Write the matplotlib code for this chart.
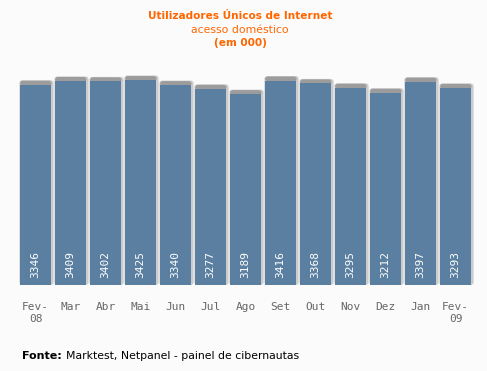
import matplotlib.pyplot as plt
from matplotlib.patches import FancyBboxPatch

# ── Data ──────────────────────────────────────────────────────
months = ["Fev-\n08", "Mar", "Abr", "Mai", "Jun", "Jul", "Ago",
          "Set", "Out", "Nov", "Dez", "Jan", "Fev-\n09"]
users = [3346, 3409, 3402, 3425, 3340, 3277, 3189,
         3416, 3368, 3295, 3212, 3397, 3293]

# ── Style ─────────────────────────────────────────────────────
BG = "#fbfbfb"
BAR = "#5a7fa1"
ORANGE = "#ff6600"
W, H = 487, 371

fig = plt.figure(figsize=(W / 100, H / 100), dpi=100, facecolor=BG)
# axes in pixel terms: x 18..473, y 80..285 (bottom)
ax = fig.add_axes([18 / W, (H - 285) / H, 455 / W, 205 / H])
ax.set_facecolor(BG)
ax.set_xlim(-0.5, len(users) - 0.5)
ax.set_ylim(0, 3425)

px = 3425 / 205  # data units per pixel (y)
xpx = 13 / 455   # data units per pixel (x)

for i, v in enumerate(users):
    # soft shadow on top and right
    sh = FancyBboxPatch((i - 0.46, 0), 0.92 + 2 * xpx, v + 4.5 * px,
                        boxstyle="round,pad=0,rounding_size=0.08",
                        mutation_aspect=px / xpx,
                        fc="#cccccc", ec="none", clip_on=False, zorder=1)
    ax.add_patch(sh)
    top = FancyBboxPatch((i - 0.44, v - 1 * px), 0.90, 5 * px,
                         boxstyle="round,pad=0,rounding_size=0.08",
                         mutation_aspect=px / xpx,
                         fc="#9c9c9c", ec="none", clip_on=False, zorder=2)
    ax.add_patch(top)

ax.bar(range(len(users)), users, width=0.9, color=BAR, zorder=3)

for i, v in enumerate(users):
    ax.text(i, 7 * px, str(v), rotation=90, ha="center", va="bottom",
            color="white", fontsize=8, family="DejaVu Sans Mono", zorder=4)

ax.set_xticks(range(len(users)))
ax.set_xticklabels(months, fontsize=8, color="#666666",
                   family="DejaVu Sans Mono", linespacing=1.3, va="top")
ax.tick_params(axis="x", length=0, pad=12)
ax.set_yticks([])
for s in ax.spines.values():
    s.set_visible(False)

# ── Titles ────────────────────────────────────────────────────
cx = 240 / W
fig.text(cx, 1 - 16 / H, "Utilizadores Únicos de Internet", ha="center",
         va="center", color=ORANGE, fontsize=7.6, fontweight="bold")
fig.text(cx, 1 - 30 / H, "acesso doméstico", ha="center", va="center",
         color=ORANGE, fontsize=7.8)
fig.text(cx, 1 - 43 / H, "(em 000)", ha="center", va="center",
         color=ORANGE, fontsize=7.6, fontweight="bold")

# ── Footer ────────────────────────────────────────────────────
fig.text(22 / W, 1 - 356 / H, "Fonte:", ha="left", va="center",
         color="black", fontsize=8, fontweight="bold")
fig.text(66 / W, 1 - 356 / H, "Marktest, Netpanel - painel de cibernautas",
         ha="left", va="center", color="black", fontsize=7.8)

fig.savefig("out.png", dpi=100, facecolor=BG)
